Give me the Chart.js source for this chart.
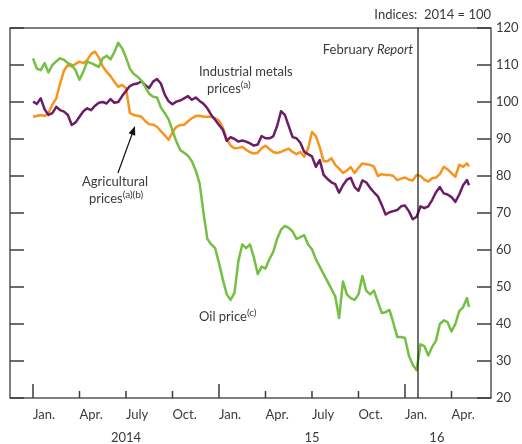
<!DOCTYPE html>
<html>
<head>
<meta charset="utf-8">
<script src="https://cdn.jsdelivr.net/npm/chart.js@4.4.0/dist/chart.umd.min.js"></script>
<style>
  html, body { margin: 0; padding: 0; background: #fff; }
</style>
</head>
<body>
<canvas id="chart" width="522" height="444"></canvas>
<script>
// Months since 1 Jan 2014, roughly weekly (last point is early May 2016)
const months = [
    0, 0.25, 0.5, 0.75, 1, 1.25, 1.5, 1.75, 2, 2.25, 2.5, 2.75, 3, 3.25, 3.5, 3.75,
    4, 4.25, 4.5, 4.75, 5, 5.25, 5.5, 5.75, 6, 6.25, 6.5, 6.75, 7, 7.25, 7.5, 7.75,
    8, 8.25, 8.5, 8.75, 9, 9.25, 9.5, 9.75, 10, 10.25, 10.5, 10.75, 11, 11.25, 11.5, 11.75,
    12, 12.25, 12.5, 12.75, 13, 13.25, 13.5, 13.75, 14, 14.25, 14.5, 14.75, 15, 15.25, 15.5, 15.75,
    16, 16.25, 16.5, 16.75, 17, 17.25, 17.5, 17.75, 18, 18.25, 18.5, 18.75, 19, 19.25, 19.5, 19.75,
    20, 20.25, 20.5, 20.75, 21, 21.25, 21.5, 21.75, 22, 22.25, 22.5, 22.75, 23, 23.25, 23.5, 23.75,
    24, 24.25, 24.5, 24.75, 25, 25.25, 25.5, 25.75, 26, 26.25, 26.5, 26.75, 27, 27.25, 27.5, 27.75,
    28, 28.13];

// Indices: 2014 = 100
const oilPrice = [
    111.8, 109, 108.6, 110.5, 108, 110, 111, 111.8, 111.4, 110.5, 110, 108.5, 106, 108.2, 110.9, 110.5,
    110, 109.5, 111.8, 112.5, 111.5, 113.5, 116, 114.5, 112, 109, 107.6, 106.8, 105.8, 104, 102.2, 101.4,
    101.2, 98.5, 97, 95.3, 92.3, 89.3, 87, 86.3, 85.5, 84, 81.5, 78, 70, 63, 61.5, 60.5,
    56.5, 52, 48, 46.5, 48.5, 57, 61.5, 60.5, 61.5, 58, 53.5, 55.5, 55, 57.5, 59.5, 63,
    65.5, 66.5, 66, 65, 63, 63.5, 64, 61.5, 60.2, 57.5, 55.5, 53.5, 51.5, 49.5, 47.5, 41.6,
    51.5, 48, 47, 46.5, 48, 53, 49, 48, 49, 46, 43, 43.2, 43.8, 40.3, 36.5, 36.5,
    36.2, 31.5, 29, 27.5, 34.5, 34, 31.5, 33.8, 35.5, 40, 41, 40.5, 38, 40, 43.5, 44.5,
    47, 44.6];
const metalsPrices = [
    100.1, 99.5, 101, 98, 96.5, 97, 98.7, 97.8, 97.4, 96.5, 93.8, 94.5, 96, 97.5, 98.3, 97.8,
    99, 99.8, 100, 99.6, 100.8, 99.8, 100, 101.6, 103, 104.3, 104.8, 105, 105.6, 104.5, 103.8, 105.5,
    106.2, 105, 102, 100.2, 99.4, 100.1, 100.4, 101, 101.6, 100.6, 101.2, 100.3, 99.5, 98.3, 96.5, 95.2,
    93.8, 92.5, 89.5, 90.5, 90, 89.3, 89.6, 89.3, 88.8, 88.2, 88.5, 90.8, 90.2, 90.2, 90.7, 93.5,
    97.5, 96.5, 93.5, 90.5, 90.2, 89, 86.5, 85.9, 85.3, 82.5, 84.3, 80.3, 79.2, 78.3, 77.8, 75.5,
    77.5, 79, 79.5, 77, 76, 78.8, 78.3, 76.8, 75.6, 74.5, 72.2, 69.6, 70.2, 70.5, 70.8, 71.8,
    72, 70.5, 68.3, 69, 71.8, 71.3, 71.8, 73.5, 75.6, 77, 75.3, 75, 74.3, 73, 75, 77.5,
    78.9, 77.5];
const agriPrices = [
    96, 96.2, 96.5, 96.2, 97, 99.3, 101, 105, 108.5, 110, 109.6, 110.3, 110.9, 110.5, 111.3, 113,
    113.6, 112, 109.6, 108.2, 107, 105.5, 104.1, 104.6, 103.8, 97, 96.5, 96.3, 96, 94.8, 94, 93.9,
    93.3, 92.1, 91, 89.8, 91.8, 93.3, 93.8, 93.8, 94.8, 95.6, 96.2, 96.3, 96, 96, 96, 95.6,
    95, 93, 90, 88.2, 87.5, 87.6, 87.9, 87.1, 86.4, 86.1, 86.3, 87.5, 88.2, 87.3, 86.5, 86.2,
    86.5, 87, 87.4, 86.5, 85.9, 86.5, 85.2, 87.5, 91.9, 90.8, 87.8, 84, 84, 84.8, 83, 82,
    80.8, 81.5, 82.4, 80.8, 82.2, 83.4, 83.2, 83, 82.5, 80, 80.5, 80.3, 80.3, 80, 78.9, 79.3,
    79.6, 79, 78.8, 80.3, 80, 79, 78.5, 79.4, 79.6, 80.5, 82.5, 81.8, 80.8, 79.8, 83, 82.5,
    83.4, 82.6];

// Axis ticks
const quarterTicks = [0, 3, 6, 9, 12, 15, 18, 21, 24, 27];
const quarterLabels = ['Jan.', 'Apr.', 'July', 'Oct.', 'Jan.', 'Apr.', 'July', 'Oct.', 'Jan.', 'Apr.'];
const yearTicks = [6, 18, 26.06];
const yearLabels = ['2014', '15', '16'];
const yTicks = [20, 30, 40, 50, 60, 70, 80, 90, 100, 110, 120];
const reportMonth = 24.84;   // February Report cut-off

const X_MIN = -1.484, X_MAX = 29.55;

const GREEN = '#74bf44';
const ORANGE = '#f7941e';
const PURPLE = '#6c1d67';
const TEXT = '#3a3a3a';
const AXIS = '#3c3c3c';
const FONT = 'Lato, "Open Sans", sans-serif';

const pts = vals => months.map((m, i) => ({ x: m, y: vals[i] }));

function drawLine(ctx, x1, y1, x2, y2) {
    ctx.beginPath();
    ctx.moveTo(x1, y1);
    ctx.lineTo(x2, y2);
    ctx.stroke();
}

// parts: [text, 'sup' | 'italic' | undefined]
function drawNote(ctx, parts, px, py, alignRight) {
    const fontFor = s => s === 'sup' ? `10px ${FONT}` : s === 'italic' ? `italic 13px ${FONT}` : `13px ${FONT}`;
    let total = 0;
    parts.forEach(([t, s]) => { ctx.font = fontFor(s); total += ctx.measureText(t).width; });
    let cx = alignRight ? px - total : px;
    parts.forEach(([t, s]) => {
        ctx.font = fontFor(s);
        ctx.fillText(t, cx, s === 'sup' ? py - 4 : py);
        cx += ctx.measureText(t).width;
    });
}

const frameAndNotes = {
    id: 'frameAndNotes',
    afterDatasetsDraw(chart) {
        const { ctx, chartArea: a } = chart;
        const x = chart.scales.x, y = chart.scales.y;
        ctx.save();

        // frame
        ctx.strokeStyle = AXIS;
        ctx.lineWidth = 1.3;
        ctx.strokeRect(a.left, a.top, a.right - a.left, a.bottom - a.top);

        // inward ticks
        ctx.lineWidth = 1.5;
        yTicks.forEach(v => {
            const py = y.getPixelForValue(v);
            drawLine(ctx, a.left, py, a.left + 14, py);
            drawLine(ctx, a.right - 14, py, a.right, py);
        });
        quarterTicks.forEach(v => {
            const px = x.getPixelForValue(v);
            const len = v % 12 === 0 ? 14 : 7;
            drawLine(ctx, px, a.bottom, px, a.bottom - len);
        });

        // February Report line
        ctx.strokeStyle = '#111';
        ctx.lineWidth = 1.2;
        const rx = x.getPixelForValue(reportMonth);
        drawLine(ctx, rx, a.top, rx, a.bottom);

        // notes
        ctx.fillStyle = TEXT;
        ctx.textBaseline = 'middle';
        ctx.textAlign = 'left';
        drawNote(ctx, [['February '], ['Report', 'italic']], x.getPixelForValue(24.52), y.getPixelForValue(114.1), true);
        drawNote(ctx, [['Industrial metals']], x.getPixelForValue(10.71), y.getPixelForValue(108.1));
        drawNote(ctx, [['prices'], ['(a)', 'sup']], x.getPixelForValue(11.23), y.getPixelForValue(103.5));
        drawNote(ctx, [['Agricultural']], x.getPixelForValue(3.16), y.getPixelForValue(78.4));
        drawNote(ctx, [['prices'], ['(a)(b)', 'sup']], x.getPixelForValue(3.61), y.getPixelForValue(73.8));
        drawNote(ctx, [['Oil price'], ['(c)', 'sup']], x.getPixelForValue(10.71), y.getPixelForValue(41.9));
        drawNote(ctx, [['Indices:  2014 = 100']], a.right, a.top - 13, true);

        // arrow to agricultural prices
        const tx = x.getPixelForValue(5.48), ty = y.getPixelForValue(80.8);
        const hx = x.getPixelForValue(6.58), hy = y.getPixelForValue(93.5);
        const ang = Math.atan2(hy - ty, hx - tx);
        ctx.strokeStyle = '#111';
        ctx.fillStyle = '#111';
        ctx.lineWidth = 1.2;
        drawLine(ctx, tx, ty, hx - 6 * Math.cos(ang), hy - 6 * Math.sin(ang));
        ctx.beginPath();
        ctx.moveTo(hx, hy);
        ctx.lineTo(hx - 9 * Math.cos(ang) + 3.5 * Math.sin(ang), hy - 9 * Math.sin(ang) - 3.5 * Math.cos(ang));
        ctx.lineTo(hx - 9 * Math.cos(ang) - 3.5 * Math.sin(ang), hy - 9 * Math.sin(ang) + 3.5 * Math.cos(ang));
        ctx.closePath();
        ctx.fill();

        ctx.restore();
    }
};

const lineStyle = { pointRadius: 0, borderWidth: 2.5, tension: 0, borderJoinStyle: 'round', fill: false, xAxisID: 'x', yAxisID: 'y' };

new Chart(document.getElementById('chart'), {
    type: 'line',
    data: {
        datasets: [
            { label: 'Oil price', data: pts(oilPrice), borderColor: GREEN, ...lineStyle },
            { label: 'Industrial metals prices', data: pts(metalsPrices), borderColor: PURPLE, ...lineStyle },
            { label: 'Agricultural prices', data: pts(agriPrices), borderColor: ORANGE, ...lineStyle }
        ]
    },
    options: {
        responsive: false,
        animation: false,
        devicePixelRatio: 1,
        layout: { padding: { top: 28, left: 10, right: 0, bottom: 0 } },
        plugins: { legend: { display: false }, tooltip: { enabled: false } },
        scales: {
            x: {
                type: 'linear', position: 'bottom', min: X_MIN, max: X_MAX, weight: 0,
                afterBuildTicks: s => { s.ticks = quarterTicks.map(v => ({ value: v })); },
                afterFit: s => { s.height = 24; },
                grid: { display: false, drawTicks: false },
                border: { display: false },
                ticks: {
                    align: 'start', padding: 9, autoSkip: false, maxRotation: 0,
                    color: TEXT, font: { family: FONT, size: 13 },
                    callback: (v, i) => quarterLabels[i]
                }
            },
            x2: {
                type: 'linear', position: 'bottom', min: X_MIN, max: X_MAX, weight: 1,
                afterBuildTicks: s => { s.ticks = yearTicks.map(v => ({ value: v })); },
                afterFit: s => { s.height = 22; },
                grid: { display: false, drawTicks: false },
                border: { display: false },
                ticks: {
                    padding: 8, autoSkip: false, maxRotation: 0,
                    color: TEXT, font: { family: FONT, size: 13 },
                    callback: (v, i) => yearLabels[i]
                }
            },
            y: {
                position: 'right', min: 20, max: 120,
                afterBuildTicks: s => { s.ticks = yTicks.map(v => ({ value: v })); },
                afterFit: s => { s.width = 31; },
                grid: { display: false, drawTicks: false },
                border: { display: false },
                ticks: { padding: 5, color: TEXT, font: { family: FONT, size: 13 } }
            }
        }
    },
    plugins: [frameAndNotes]
});
</script>
</body>
</html>
